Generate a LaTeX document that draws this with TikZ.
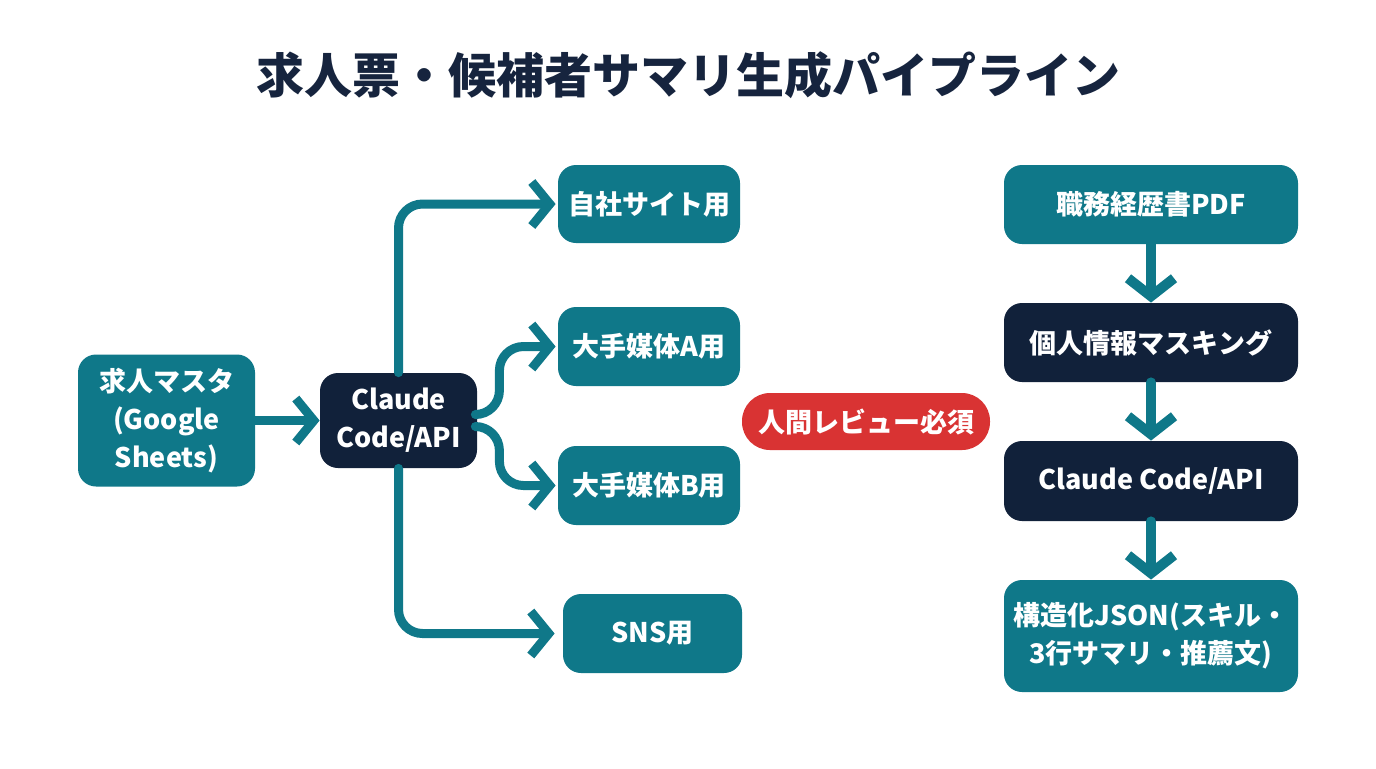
\documentclass[tikz,border=0pt]{standalone}
\usepackage{fontspec}
\setmainfont{Noto Sans CJK JP}
\usetikzlibrary{arrows.meta}
\definecolor{tealc}{HTML}{0F7889}
\definecolor{navyc}{HTML}{11213A}
\definecolor{redc}{HTML}{D93333}
\definecolor{titlec}{HTML}{16243E}
\begin{document}
\begin{tikzpicture}[x=0.5pt,y=-0.5pt,
  box/.style={rounded corners=9pt, text=white, align=center, inner sep=0pt,
    font=\bfseries\fontsize{13.5}{19}\selectfont},
  tealbox/.style={box, fill=tealc},
  navybox/.style={box, fill=navyc},
  conn/.style={draw=tealc, line width=4.5pt, rounded corners=12pt, line cap=round, line join=round,
    -{Straight Barb[length=9pt,width=22pt]}},
  vconn/.style={conn, line width=5pt, -{Straight Barb[length=9pt,width=23pt]}}
]
\useasboundingbox[fill=white] (0,0) rectangle (1376,768);
\node[text=titlec, font=\bfseries\fontsize{24}{28}\selectfont] (title) at (688,75) {求人票・候補者サマリ生成パイプライン};

% left group
\node[tealbox, minimum width=88.5pt, minimum height=66pt] (src) at (166.5,420.5) {求人マスタ\\(Google\\Sheets)};
\node[navybox, minimum width=78.5pt, minimum height=47.5pt] (cl) at (398.5,420.5) {Claude\\Code/API};
\node[tealbox, minimum width=91pt, minimum height=39pt] (o1) at (649,204) {自社サイト用};
\node[tealbox, minimum width=91pt, minimum height=39.5pt] (o2) at (649,346.5) {大手媒体A用};
\node[tealbox, minimum width=91pt, minimum height=39.5pt] (o3) at (649,485.5) {大手媒体B用};
\node[tealbox, minimum width=89.5pt, minimum height=39.5pt] (o4) at (652.5,633.5) {SNS用};

% review pill
\node[box, fill=redc, rounded corners=14pt, minimum width=124pt, minimum height=28.5pt] (rev) at (866,421.5) {人間レビュー必須};

% right group
\node[tealbox, minimum width=147pt, minimum height=39.5pt] (r1) at (1151,204.5) {職務経歴書PDF};
\node[navybox, minimum width=147pt, minimum height=39.5pt] (r2) at (1151,342.5) {個人情報マスキング};
\node[navybox, minimum width=147pt, minimum height=40pt] (r3) at (1151,481) {Claude Code/API};
\node[tealbox, minimum width=147pt, minimum height=56pt] (r4) at (1151,636) {構造化JSON(スキル・\\3行サマリ・推薦文)};

% connectors
\draw[conn] (src.east) -- (cl.west);
\draw[conn, shorten >=1pt] (cl.north) |- (o1.west);
\draw[conn, shorten >=4pt] (cl.south) |- (o4.west);
\draw[conn, shorten >=1pt] ([yshift=3pt]cl.east) -- ++(22,0) |- (o2.west);
\draw[conn, shorten >=1pt] ([yshift=-3pt]cl.east) -- ++(22,0) |- (o3.west);
\draw[vconn] (r1.south) -- (r2.north);
\draw[vconn] (r2.south) -- (r3.north);
\draw[vconn] (r3.south) -- (r4.north);
\end{tikzpicture}
\end{document}
